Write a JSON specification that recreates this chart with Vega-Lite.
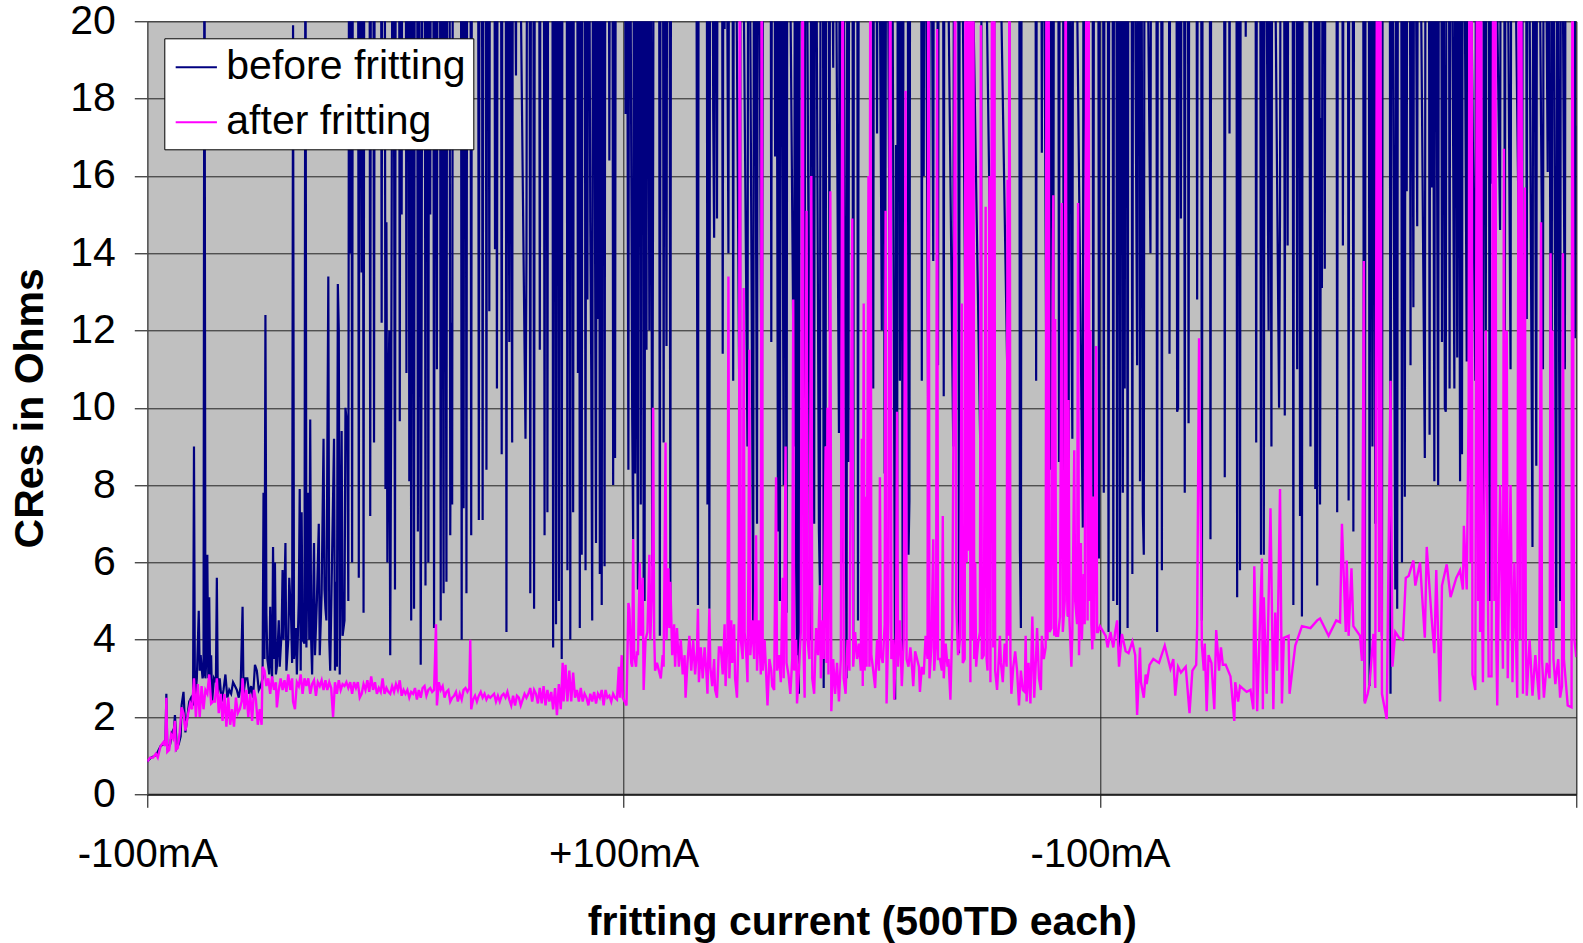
{"$schema":"https://vega.github.io/schema/vega-lite/v6.json","width":1429,"height":773,"autosize":{"type":"none"},"padding":{"left":147.3,"top":21.3,"right":6.7,"bottom":148.7},"background":"white","config":{"font":"Liberation Sans","view":{"fill":"#C0C0C0","stroke":"#808080","strokeWidth":1}},"datasets":{"before":[{"x":0,"y":0.85},{"x":4,"y":0.95},{"x":8,"y":1},{"x":11,"y":1.1},{"x":14,"y":1.25},{"x":17,"y":1.3},{"x":19,"y":1.3},{"x":20,"y":2.6},{"x":21,"y":1.15},{"x":24,"y":1.3},{"x":26,"y":1.6},{"x":28,"y":1.7},{"x":29,"y":2.05},{"x":31,"y":1.2},{"x":33,"y":1.3},{"x":35,"y":1.5},{"x":36,"y":2.3},{"x":38,"y":2.65},{"x":40,"y":1.6},{"x":42,"y":2},{"x":44,"y":2.4},{"x":46,"y":2.5},{"x":48,"y":2.3},{"x":49,"y":9},{"x":50,"y":2.4},{"x":52,"y":3},{"x":54,"y":4.75},{"x":55,"y":3.2},{"x":56,"y":3.6},{"x":58,"y":3},{"x":59,"y":3.1},{"x":60,"y":25},{"x":61,"y":3},{"x":62,"y":3.5},{"x":63,"y":6.2},{"x":64,"y":3},{"x":65,"y":5.1},{"x":66,"y":2.9},{"x":67,"y":3.6},{"x":68,"y":2.4},{"x":70,"y":3},{"x":72,"y":2.9},{"x":73,"y":5.6},{"x":74,"y":2.6},{"x":76,"y":3},{"x":78,"y":2.4},{"x":80,"y":2.7},{"x":82,"y":3.1},{"x":84,"y":2.5},{"x":86,"y":2.7},{"x":88,"y":2.6},{"x":90,"y":2.9},{"x":92,"y":2.8},{"x":94,"y":2.7},{"x":96,"y":2.5},{"x":98,"y":2.8},{"x":100,"y":4.85},{"x":101,"y":2.6},{"x":103,"y":3},{"x":105,"y":3},{"x":107,"y":2.6},{"x":109,"y":2.8},{"x":111,"y":2.5},{"x":113,"y":3.35},{"x":115,"y":3.2},{"x":117,"y":2.7},{"x":119,"y":2.8},{"x":120,"y":2.9},{"x":121,"y":3},{"x":122,"y":7.8},{"x":123,"y":3.5},{"x":124,"y":12.4},{"x":125,"y":4.7},{"x":126,"y":3.5},{"x":128,"y":3.1},{"x":129,"y":4.85},{"x":130,"y":3.5},{"x":131,"y":3},{"x":132,"y":6.4},{"x":133,"y":3.5},{"x":134,"y":6},{"x":135,"y":3.1},{"x":136,"y":3.3},{"x":138,"y":4.5},{"x":139,"y":3.3},{"x":141,"y":4.2},{"x":142,"y":5.8},{"x":143,"y":4},{"x":145,"y":6.5},{"x":146,"y":3.2},{"x":148,"y":4},{"x":149,"y":5.6},{"x":151,"y":4.5},{"x":152,"y":3.4},{"x":153,"y":19.9},{"x":154,"y":3.5},{"x":156,"y":4.3},{"x":157,"y":3.1},{"x":159,"y":5},{"x":160,"y":7.9},{"x":161,"y":3.2},{"x":162,"y":7.3},{"x":163,"y":4},{"x":165,"y":3.9},{"x":166,"y":25},{"x":167,"y":3.8},{"x":169,"y":7.8},{"x":170,"y":4},{"x":171,"y":9.7},{"x":172,"y":4},{"x":173,"y":3.1},{"x":175,"y":6.5},{"x":176,"y":3.6},{"x":178,"y":5},{"x":180,"y":7},{"x":181,"y":3.6},{"x":183,"y":5.2},{"x":185,"y":9.2},{"x":186,"y":5.3},{"x":187,"y":4.8},{"x":188,"y":4.5},{"x":190,"y":13.4},{"x":191,"y":4},{"x":192,"y":3.2},{"x":196,"y":9.2},{"x":197,"y":3.2},{"x":198,"y":5.5},{"x":199,"y":3.3},{"x":200,"y":13.2},{"x":201,"y":12},{"x":202,"y":3.1},{"x":204,"y":9.4},{"x":205,"y":4.1},{"x":207,"y":4.5},{"x":208,"y":10},{"x":210,"y":9.5},{"x":211,"y":5},{"x":212,"y":30},{"x":213,"y":14},{"x":214,"y":30},{"x":215,"y":6},{"x":216,"y":30},{"x":221,"y":30},{"x":222,"y":5.6},{"x":223,"y":30},{"x":225,"y":13.5},{"x":226,"y":30},{"x":227,"y":4.7},{"x":228,"y":30},{"x":233,"y":30},{"x":234,"y":7.2},{"x":235,"y":30},{"x":237,"y":30},{"x":238,"y":9.1},{"x":239,"y":30},{"x":245,"y":30},{"x":246,"y":12.2},{"x":247,"y":30},{"x":249,"y":30},{"x":250,"y":7.9},{"x":251,"y":14.8},{"x":252,"y":6},{"x":253,"y":10},{"x":254,"y":12},{"x":255,"y":3.6},{"x":256,"y":10},{"x":258,"y":30},{"x":260,"y":5.3},{"x":261,"y":30},{"x":264,"y":30},{"x":265,"y":9.65},{"x":266,"y":30},{"x":267,"y":15},{"x":268,"y":30},{"x":271,"y":30},{"x":272,"y":10.9},{"x":273,"y":30},{"x":274,"y":30},{"x":275,"y":8.1},{"x":276,"y":30},{"x":277,"y":4.5},{"x":278,"y":30},{"x":280,"y":4.8},{"x":281,"y":30},{"x":283,"y":30},{"x":284,"y":6.8},{"x":285,"y":30},{"x":287,"y":3.35},{"x":288,"y":12.8},{"x":289,"y":30},{"x":291,"y":30},{"x":292,"y":5.4},{"x":293,"y":30},{"x":294,"y":30},{"x":295,"y":6},{"x":296,"y":30},{"x":297,"y":15},{"x":298,"y":30},{"x":300,"y":30},{"x":301,"y":4.3},{"x":302,"y":30},{"x":304,"y":11},{"x":305,"y":30},{"x":307,"y":30},{"x":308,"y":4.5},{"x":309,"y":30},{"x":311,"y":5.2},{"x":312,"y":30},{"x":314,"y":5.5},{"x":315,"y":30},{"x":317,"y":30},{"x":318,"y":6.7},{"x":319,"y":12.2},{"x":320,"y":7.5},{"x":321,"y":30},{"x":329,"y":30},{"x":330,"y":4},{"x":331,"y":30},{"x":332,"y":7.4},{"x":333,"y":30},{"x":334,"y":30},{"x":335,"y":5.2},{"x":336,"y":30},{"x":339,"y":30},{"x":340,"y":6.7},{"x":341,"y":30},{"x":347,"y":30},{"x":348,"y":7.1},{"x":349,"y":30},{"x":351,"y":30},{"x":352,"y":7.1},{"x":353,"y":30},{"x":355,"y":30},{"x":356,"y":8.4},{"x":357,"y":30},{"x":358,"y":30},{"x":359,"y":12.5},{"x":360,"y":30},{"x":364,"y":30},{"x":365,"y":14.1},{"x":366,"y":30},{"x":367,"y":10.5},{"x":368,"y":30},{"x":371,"y":30},{"x":372,"y":8.8},{"x":373,"y":30},{"x":376,"y":30},{"x":377,"y":4.2},{"x":378,"y":30},{"x":380,"y":11.7},{"x":381,"y":30},{"x":382,"y":18.6},{"x":383,"y":9.1},{"x":384,"y":30},{"x":387,"y":18.6},{"x":388,"y":30},{"x":397,"y":9.2},{"x":398,"y":13.9},{"x":399,"y":30},{"x":401,"y":30},{"x":402,"y":5.2},{"x":403,"y":30},{"x":405,"y":30},{"x":406,"y":4.8},{"x":407,"y":30},{"x":411,"y":30},{"x":412,"y":11.5},{"x":413,"y":30},{"x":416,"y":30},{"x":417,"y":6.7},{"x":418,"y":30},{"x":419,"y":30},{"x":420,"y":7.3},{"x":421,"y":30},{"x":425,"y":30},{"x":426,"y":3.8},{"x":427,"y":30},{"x":428,"y":30},{"x":429,"y":4.4},{"x":430,"y":30},{"x":431,"y":30},{"x":432,"y":5},{"x":433,"y":30},{"x":434,"y":30},{"x":435,"y":3.5},{"x":436,"y":30},{"x":440,"y":30},{"x":441,"y":5.8},{"x":442,"y":30},{"x":443,"y":30},{"x":444,"y":4},{"x":445,"y":30},{"x":446,"y":30},{"x":447,"y":7.3},{"x":448,"y":30},{"x":451,"y":30},{"x":452,"y":10.9},{"x":453,"y":30},{"x":454,"y":4.3},{"x":455,"y":30},{"x":456,"y":6.2},{"x":457,"y":30},{"x":459,"y":30},{"x":460,"y":5.8},{"x":461,"y":30},{"x":462,"y":12.8},{"x":463,"y":30},{"x":465,"y":14.8},{"x":466,"y":11},{"x":467,"y":4.5},{"x":468,"y":30},{"x":471,"y":6.5},{"x":472,"y":30},{"x":473,"y":12.3},{"x":474,"y":30},{"x":475,"y":5.7},{"x":476,"y":30},{"x":477,"y":4.9},{"x":478,"y":30},{"x":479,"y":30},{"x":480,"y":5.9},{"x":481,"y":30},{"x":484,"y":30},{"x":485,"y":16.4},{"x":486,"y":30},{"x":488,"y":30},{"x":489,"y":8},{"x":490,"y":30},{"x":491,"y":8.7},{"x":492,"y":30},{"x":501,"y":30},{"x":502,"y":17.6},{"x":503,"y":30},{"x":505,"y":8.4},{"x":506,"y":30},{"x":509,"y":9.7},{"x":510,"y":6.6},{"x":511,"y":30},{"x":512,"y":8.3},{"x":513,"y":30},{"x":514,"y":11.6},{"x":515,"y":5.3},{"x":516,"y":30},{"x":517,"y":30},{"x":518,"y":7.5},{"x":519,"y":30},{"x":520,"y":30},{"x":521,"y":5.6},{"x":522,"y":5},{"x":523,"y":30},{"x":524,"y":11.5},{"x":525,"y":30},{"x":527,"y":12},{"x":528,"y":30},{"x":530,"y":5.9},{"x":531,"y":16.8},{"x":532,"y":30},{"x":537,"y":30},{"x":538,"y":4.1},{"x":539,"y":30},{"x":541,"y":30},{"x":542,"y":9.1},{"x":543,"y":30},{"x":545,"y":11.6},{"x":546,"y":30},{"x":548,"y":30},{"x":549,"y":4.6},{"x":550,"y":30},{"x":576,"y":30},{"x":577,"y":14},{"x":578,"y":4.9},{"x":579,"y":30},{"x":587,"y":30},{"x":588,"y":7.5},{"x":589,"y":30},{"x":590,"y":4.8},{"x":591,"y":30},{"x":593,"y":30},{"x":594,"y":17.7},{"x":595,"y":14.4},{"x":596,"y":30},{"x":598,"y":14.9},{"x":599,"y":30},{"x":603,"y":30},{"x":604,"y":11.4},{"x":605,"y":30},{"x":606,"y":19.8},{"x":607,"y":30},{"x":610,"y":14},{"x":611,"y":30},{"x":614,"y":30},{"x":615,"y":10.7},{"x":616,"y":30},{"x":622,"y":8},{"x":623,"y":30},{"x":630,"y":9},{"x":631,"y":30},{"x":636,"y":4.4},{"x":637,"y":30},{"x":640,"y":7},{"x":641,"y":30},{"x":645,"y":8},{"x":647,"y":30},{"x":654,"y":30},{"x":655,"y":11.7},{"x":656,"y":30},{"x":658,"y":30},{"x":659,"y":16.5},{"x":660,"y":30},{"x":662,"y":6.8},{"x":663,"y":30},{"x":664,"y":5},{"x":665,"y":30},{"x":668,"y":8},{"x":669,"y":30},{"x":671,"y":4.7},{"x":672,"y":30},{"x":679,"y":9},{"x":680,"y":30},{"x":681,"y":6},{"x":682,"y":3.6},{"x":683,"y":30},{"x":684,"y":2.6},{"x":685,"y":30},{"x":690,"y":8},{"x":691,"y":30},{"x":696,"y":4},{"x":697,"y":30},{"x":700,"y":7},{"x":701,"y":30},{"x":705,"y":6.8},{"x":706,"y":5.4},{"x":707,"y":30},{"x":709,"y":30},{"x":710,"y":2.75},{"x":711,"y":30},{"x":712,"y":9},{"x":713,"y":30},{"x":715,"y":30},{"x":716,"y":12},{"x":717,"y":30},{"x":720,"y":18.8},{"x":721,"y":30},{"x":726,"y":9.35},{"x":727,"y":30},{"x":729,"y":6},{"x":730,"y":30},{"x":733,"y":8.6},{"x":734,"y":3},{"x":735,"y":30},{"x":736,"y":8.6},{"x":737,"y":30},{"x":740,"y":30},{"x":741,"y":3.5},{"x":742,"y":30},{"x":745,"y":30},{"x":746,"y":4.5},{"x":747,"y":30},{"x":761,"y":30},{"x":762,"y":10.5},{"x":763,"y":30},{"x":765,"y":30},{"x":766,"y":17.1},{"x":767,"y":30},{"x":771,"y":12},{"x":772,"y":30},{"x":774,"y":8.3},{"x":775,"y":17.2},{"x":776,"y":30},{"x":780,"y":9},{"x":781,"y":30},{"x":785,"y":2.45},{"x":786,"y":16.8},{"x":787,"y":4.3},{"x":788,"y":30},{"x":789,"y":30},{"x":790,"y":10.7},{"x":791,"y":30},{"x":793,"y":3.5},{"x":794,"y":30},{"x":798,"y":30},{"x":799,"y":6.2},{"x":800,"y":7.6},{"x":801,"y":30},{"x":812,"y":30},{"x":813,"y":10.7},{"x":814,"y":30},{"x":815,"y":16},{"x":816,"y":30},{"x":820,"y":8},{"x":822,"y":30},{"x":825,"y":13.8},{"x":826,"y":30},{"x":829,"y":30},{"x":830,"y":11.1},{"x":831,"y":30},{"x":835,"y":30},{"x":836,"y":10.3},{"x":837,"y":30},{"x":846,"y":9},{"x":847,"y":30},{"x":851,"y":30},{"x":852,"y":3.65},{"x":853,"y":30},{"x":860,"y":8},{"x":861,"y":30},{"x":875,"y":8},{"x":876,"y":30},{"x":888,"y":8},{"x":890,"y":30},{"x":904,"y":9},{"x":906,"y":30},{"x":915,"y":30},{"x":916,"y":6.3},{"x":917,"y":4.3},{"x":918,"y":30},{"x":932,"y":30},{"x":933,"y":10.7},{"x":934,"y":30},{"x":938,"y":30},{"x":939,"y":16.6},{"x":940,"y":30},{"x":944,"y":9},{"x":946,"y":30},{"x":947,"y":30},{"x":948,"y":8.4},{"x":949,"y":30},{"x":951,"y":11},{"x":952,"y":30},{"x":956,"y":30},{"x":957,"y":8.6},{"x":958,"y":30},{"x":961,"y":30},{"x":962,"y":6.8},{"x":963,"y":30},{"x":966,"y":30},{"x":967,"y":4.6},{"x":968,"y":30},{"x":970,"y":12.8},{"x":971,"y":9.2},{"x":972,"y":30},{"x":981,"y":9},{"x":982,"y":6.9},{"x":983,"y":30},{"x":986,"y":9},{"x":987,"y":30},{"x":992,"y":30},{"x":993,"y":7.7},{"x":994,"y":30},{"x":998,"y":30},{"x":999,"y":6.1},{"x":1000,"y":30},{"x":1003,"y":30},{"x":1004,"y":7.8},{"x":1005,"y":30},{"x":1008,"y":30},{"x":1009,"y":4.2},{"x":1010,"y":30},{"x":1013,"y":30},{"x":1014,"y":5},{"x":1015,"y":30},{"x":1017,"y":30},{"x":1018,"y":4.9},{"x":1019,"y":30},{"x":1020,"y":30},{"x":1021,"y":3.8},{"x":1022,"y":30},{"x":1023,"y":30},{"x":1024,"y":7.8},{"x":1025,"y":30},{"x":1026,"y":10.5},{"x":1027,"y":30},{"x":1028,"y":30},{"x":1029,"y":4.3},{"x":1030,"y":30},{"x":1033,"y":30},{"x":1034,"y":5.7},{"x":1035,"y":30},{"x":1039,"y":11.1},{"x":1040,"y":30},{"x":1041,"y":30},{"x":1042,"y":8.1},{"x":1043,"y":30},{"x":1045,"y":7.3},{"x":1046,"y":6.2},{"x":1047,"y":30},{"x":1053,"y":14},{"x":1054,"y":30},{"x":1059,"y":30},{"x":1060,"y":4.2},{"x":1061,"y":30},{"x":1064,"y":30},{"x":1065,"y":5.8},{"x":1066,"y":30},{"x":1072,"y":30},{"x":1073,"y":11.4},{"x":1074,"y":30},{"x":1080,"y":30},{"x":1081,"y":9.9},{"x":1082,"y":10},{"x":1083,"y":30},{"x":1084,"y":30},{"x":1085,"y":14.9},{"x":1086,"y":30},{"x":1088,"y":30},{"x":1089,"y":7.8},{"x":1090,"y":30},{"x":1092,"y":30},{"x":1093,"y":9.6},{"x":1094,"y":30},{"x":1101,"y":30},{"x":1102,"y":12.8},{"x":1103,"y":30},{"x":1106,"y":30},{"x":1107,"y":4.5},{"x":1108,"y":30},{"x":1115,"y":30},{"x":1116,"y":6.6},{"x":1117,"y":30},{"x":1130,"y":30},{"x":1131,"y":8.2},{"x":1132,"y":30},{"x":1135,"y":30},{"x":1136,"y":17.1},{"x":1137,"y":30},{"x":1143,"y":30},{"x":1144,"y":5.1},{"x":1145,"y":30},{"x":1146,"y":30},{"x":1147,"y":5.8},{"x":1148,"y":30},{"x":1152,"y":30},{"x":1153,"y":19.6},{"x":1154,"y":30},{"x":1163,"y":30},{"x":1164,"y":9.1},{"x":1165,"y":30},{"x":1168,"y":30},{"x":1169,"y":6.2},{"x":1170,"y":30},{"x":1171,"y":30},{"x":1172,"y":6.2},{"x":1173,"y":30},{"x":1177,"y":12},{"x":1178,"y":30},{"x":1180,"y":9},{"x":1181,"y":30},{"x":1188,"y":10},{"x":1189,"y":15.1},{"x":1190,"y":30},{"x":1193,"y":30},{"x":1194,"y":9.8},{"x":1195,"y":30},{"x":1196,"y":30},{"x":1197,"y":14.2},{"x":1198,"y":30},{"x":1202,"y":30},{"x":1203,"y":4.9},{"x":1204,"y":30},{"x":1206,"y":30},{"x":1207,"y":11},{"x":1208,"y":30},{"x":1209,"y":30},{"x":1210,"y":7.2},{"x":1211,"y":30},{"x":1212,"y":4.6},{"x":1213,"y":30},{"x":1219,"y":30},{"x":1220,"y":18.4},{"x":1221,"y":9},{"x":1222,"y":30},{"x":1225,"y":30},{"x":1226,"y":7.9},{"x":1227,"y":30},{"x":1228,"y":5.4},{"x":1229,"y":30},{"x":1230,"y":30},{"x":1231,"y":7.5},{"x":1232,"y":17.5},{"x":1233,"y":13.1},{"x":1234,"y":30},{"x":1235,"y":30},{"x":1236,"y":13.6},{"x":1237,"y":30},{"x":1248,"y":30},{"x":1249,"y":7.3},{"x":1250,"y":30},{"x":1254,"y":30},{"x":1255,"y":14.2},{"x":1256,"y":30},{"x":1260,"y":30},{"x":1261,"y":7.6},{"x":1262,"y":30},{"x":1265,"y":30},{"x":1266,"y":6.8},{"x":1267,"y":30},{"x":1276,"y":30},{"x":1277,"y":8},{"x":1278,"y":2.4},{"x":1279,"y":30},{"x":1282,"y":30},{"x":1283,"y":2.8},{"x":1284,"y":30},{"x":1286,"y":9},{"x":1287,"y":30},{"x":1289,"y":7},{"x":1290,"y":30},{"x":1295,"y":9},{"x":1296,"y":4.1},{"x":1297,"y":30},{"x":1304,"y":30},{"x":1305,"y":2.6},{"x":1306,"y":30},{"x":1310,"y":5.3},{"x":1311,"y":30},{"x":1312,"y":4.8},{"x":1313,"y":30},{"x":1316,"y":30},{"x":1317,"y":6},{"x":1318,"y":30},{"x":1320,"y":7.7},{"x":1321,"y":30},{"x":1322,"y":15.6},{"x":1323,"y":30},{"x":1325,"y":30},{"x":1326,"y":11.1},{"x":1327,"y":30},{"x":1329,"y":12.6},{"x":1330,"y":30},{"x":1333,"y":14.7},{"x":1334,"y":30},{"x":1341,"y":8.7},{"x":1342,"y":30},{"x":1345,"y":30},{"x":1346,"y":9.3},{"x":1347,"y":30},{"x":1348,"y":15.7},{"x":1349,"y":30},{"x":1351,"y":8.1},{"x":1352,"y":30},{"x":1355,"y":8},{"x":1356,"y":30},{"x":1358,"y":30},{"x":1359,"y":11.7},{"x":1360,"y":30},{"x":1362,"y":10},{"x":1363,"y":9.9},{"x":1364,"y":30},{"x":1366,"y":30},{"x":1367,"y":10.5},{"x":1368,"y":30},{"x":1372,"y":10.5},{"x":1373,"y":30},{"x":1375,"y":11.3},{"x":1376,"y":30},{"x":1378,"y":8.1},{"x":1379,"y":30},{"x":1380,"y":8.8},{"x":1381,"y":30},{"x":1385,"y":11.2},{"x":1386,"y":30},{"x":1394,"y":10.7},{"x":1395,"y":30},{"x":1402,"y":5.8},{"x":1403,"y":30},{"x":1405,"y":12},{"x":1406,"y":30},{"x":1408,"y":30},{"x":1409,"y":5},{"x":1410,"y":30},{"x":1411,"y":15.8},{"x":1412,"y":30},{"x":1420,"y":14.6},{"x":1421,"y":30},{"x":1424,"y":30},{"x":1425,"y":12},{"x":1426,"y":30},{"x":1431,"y":11},{"x":1432,"y":30},{"x":1443,"y":7.4},{"x":1444,"y":30},{"x":1447,"y":30},{"x":1448,"y":12.3},{"x":1449,"y":30},{"x":1454,"y":6.4},{"x":1455,"y":30},{"x":1458,"y":8.5},{"x":1459,"y":30},{"x":1465,"y":11},{"x":1466,"y":30},{"x":1470,"y":16.1},{"x":1471,"y":30},{"x":1473,"y":11},{"x":1474,"y":6.1},{"x":1475,"y":30},{"x":1479,"y":4.3},{"x":1480,"y":30},{"x":1482,"y":11},{"x":1483,"y":5},{"x":1484,"y":30},{"x":1488,"y":11},{"x":1489,"y":30},{"x":1498,"y":30},{"x":1499,"y":11.8},{"x":1500,"y":17.3}],"after":[{"x":0,"y":0.85},{"x":3,"y":0.95},{"x":6,"y":0.95},{"x":9,"y":1.05},{"x":11,"y":0.95},{"x":14,"y":1.25},{"x":17,"y":1.35},{"x":19,"y":1.25},{"x":20,"y":2.5},{"x":21,"y":1.1},{"x":23,"y":1.15},{"x":25,"y":1.55},{"x":27,"y":1.45},{"x":29,"y":1.9},{"x":30,"y":1.15},{"x":32,"y":1.2},{"x":34,"y":1.6},{"x":36,"y":2.25},{"x":38,"y":2.1},{"x":40,"y":1.65},{"x":41,"y":1.8},{"x":43,"y":2.1},{"x":45,"y":2.35},{"x":47,"y":2.2},{"x":49,"y":3},{"x":51,"y":2},{"x":53,"y":2.85},{"x":55,"y":2},{"x":57,"y":2.8},{"x":59,"y":2.2},{"x":61,"y":2.7},{"x":63,"y":2.6},{"x":65,"y":3.1},{"x":67,"y":2.35},{"x":69,"y":2.4},{"x":71,"y":2.4},{"x":73,"y":3},{"x":75,"y":2.1},{"x":77,"y":2.6},{"x":79,"y":1.9},{"x":81,"y":2.6},{"x":83,"y":1.75},{"x":85,"y":2.5},{"x":87,"y":1.8},{"x":89,"y":2.2},{"x":91,"y":1.75},{"x":93,"y":2.5},{"x":95,"y":2.1},{"x":97,"y":2.2},{"x":99,"y":2.4},{"x":100,"y":3},{"x":102,"y":2.2},{"x":104,"y":2.7},{"x":106,"y":2},{"x":108,"y":2.6},{"x":110,"y":1.9},{"x":112,"y":2.7},{"x":114,"y":2.45},{"x":116,"y":1.8},{"x":118,"y":2.2},{"x":120,"y":1.8},{"x":121,"y":3.3},{"x":123,"y":3.2},{"x":125,"y":2.8},{"x":127,"y":3},{"x":129,"y":2.6},{"x":131,"y":3.05},{"x":133,"y":2.7},{"x":135,"y":2.9},{"x":136,"y":2.25},{"x":138,"y":2.7},{"x":140,"y":3},{"x":142,"y":2.7},{"x":144,"y":2.95},{"x":146,"y":2.65},{"x":148,"y":3.1},{"x":150,"y":2.7},{"x":152,"y":3},{"x":153,"y":2.4},{"x":155,"y":2.2},{"x":157,"y":2.9},{"x":159,"y":2.8},{"x":161,"y":3.1},{"x":163,"y":2.6},{"x":165,"y":3},{"x":167,"y":2.8},{"x":169,"y":3},{"x":171,"y":2.6},{"x":173,"y":2.85},{"x":175,"y":2.95},{"x":177,"y":2.55},{"x":179,"y":2.9},{"x":181,"y":2.8},{"x":183,"y":2.95},{"x":185,"y":2.7},{"x":187,"y":2.95},{"x":189,"y":2.7},{"x":191,"y":2.9},{"x":193,"y":2.75},{"x":195,"y":2},{"x":197,"y":2.9},{"x":199,"y":2.6},{"x":201,"y":2.95},{"x":203,"y":2.7},{"x":205,"y":2.85},{"x":207,"y":2.8},{"x":209,"y":2.9},{"x":211,"y":2.75},{"x":213,"y":2.9},{"x":215,"y":2.6},{"x":217,"y":2.9},{"x":219,"y":2.75},{"x":221,"y":2.9},{"x":223,"y":2.5},{"x":225,"y":2.6},{"x":227,"y":2.85},{"x":229,"y":2.7},{"x":231,"y":2.95},{"x":233,"y":2.65},{"x":235,"y":3.05},{"x":237,"y":2.7},{"x":239,"y":2.9},{"x":241,"y":2.6},{"x":243,"y":2.75},{"x":245,"y":2.65},{"x":247,"y":3},{"x":249,"y":2.6},{"x":251,"y":2.75},{"x":253,"y":2.65},{"x":255,"y":2.6},{"x":257,"y":2.8},{"x":259,"y":2.65},{"x":261,"y":2.85},{"x":263,"y":2.7},{"x":265,"y":2.95},{"x":267,"y":2.55},{"x":269,"y":2.7},{"x":271,"y":2.6},{"x":273,"y":2.7},{"x":275,"y":2.5},{"x":277,"y":2.65},{"x":279,"y":2.6},{"x":281,"y":2.75},{"x":283,"y":2.45},{"x":285,"y":2.7},{"x":287,"y":2.5},{"x":289,"y":2.75},{"x":291,"y":2.8},{"x":293,"y":2.55},{"x":295,"y":2.7},{"x":297,"y":2.75},{"x":299,"y":2.65},{"x":301,"y":2.7},{"x":302,"y":3.5},{"x":303,"y":4.4},{"x":304,"y":2.3},{"x":306,"y":2.9},{"x":308,"y":2.7},{"x":310,"y":2.8},{"x":312,"y":2.5},{"x":314,"y":2.65},{"x":316,"y":2.7},{"x":318,"y":2.4},{"x":320,"y":2.5},{"x":322,"y":2.55},{"x":324,"y":2.65},{"x":326,"y":2.4},{"x":328,"y":2.6},{"x":330,"y":2.45},{"x":332,"y":2.7},{"x":334,"y":2.75},{"x":336,"y":2.65},{"x":338,"y":2.75},{"x":339,"y":4},{"x":340,"y":2.2},{"x":342,"y":2.45},{"x":344,"y":2.55},{"x":346,"y":2.4},{"x":348,"y":2.55},{"x":350,"y":2.65},{"x":352,"y":2.5},{"x":354,"y":2.6},{"x":356,"y":2.45},{"x":358,"y":2.55},{"x":360,"y":2.5},{"x":362,"y":2.55},{"x":364,"y":2.6},{"x":366,"y":2.4},{"x":368,"y":2.55},{"x":370,"y":2.4},{"x":372,"y":2.55},{"x":374,"y":2.6},{"x":376,"y":2.5},{"x":378,"y":2.65},{"x":380,"y":2.45},{"x":382,"y":2.3},{"x":384,"y":2.55},{"x":386,"y":2.3},{"x":388,"y":2.55},{"x":390,"y":2.5},{"x":392,"y":2.3},{"x":394,"y":2.45},{"x":396,"y":2.6},{"x":398,"y":2.5},{"x":400,"y":2.6},{"x":402,"y":2.75},{"x":404,"y":2.4},{"x":406,"y":2.7},{"x":408,"y":2.6},{"x":410,"y":2.35},{"x":412,"y":2.75},{"x":414,"y":2.35},{"x":416,"y":2.8},{"x":418,"y":2.3},{"x":420,"y":2.7},{"x":422,"y":2.4},{"x":424,"y":2.65},{"x":426,"y":2.2},{"x":428,"y":2.75},{"x":430,"y":2.05},{"x":432,"y":2.85},{"x":434,"y":2.2},{"x":436,"y":3.4},{"x":437,"y":2.4},{"x":439,"y":3.35},{"x":441,"y":2.4},{"x":443,"y":3.2},{"x":445,"y":2.4},{"x":447,"y":3.15},{"x":449,"y":2.5},{"x":451,"y":2.7},{"x":453,"y":2.4},{"x":455,"y":2.75},{"x":457,"y":2.4},{"x":459,"y":2.6},{"x":461,"y":2.5},{"x":463,"y":2.3},{"x":465,"y":2.6},{"x":467,"y":2.4},{"x":469,"y":2.65},{"x":471,"y":2.35},{"x":473,"y":2.6},{"x":475,"y":2.5},{"x":477,"y":2.7},{"x":479,"y":2.3},{"x":481,"y":2.7},{"x":483,"y":2.5},{"x":485,"y":2.55},{"x":487,"y":2.4},{"x":489,"y":2.6},{"x":491,"y":2.5},{"x":493,"y":2.45},{"x":495,"y":3.3},{"x":496,"y":2.5},{"x":498,"y":3.6},{"x":499,"y":2.5},{"x":501,"y":2.4},{"x":503,"y":2.3},{"x":505,"y":4.95},{"x":506,"y":4.8},{"x":508,"y":3.4},{"x":509,"y":3.3},{"x":510,"y":6.6},{"x":511,"y":3.6},{"x":513,"y":3.3},{"x":514,"y":3.7},{"x":515,"y":3.6},{"x":517,"y":6},{"x":518,"y":4.1},{"x":519,"y":4.4},{"x":520,"y":5.6},{"x":521,"y":2.7},{"x":523,"y":4},{"x":525,"y":4.2},{"x":527,"y":6.2},{"x":528,"y":4},{"x":530,"y":5.5},{"x":531,"y":10},{"x":532,"y":4.2},{"x":533,"y":3.2},{"x":535,"y":3.4},{"x":537,"y":3.2},{"x":539,"y":3},{"x":541,"y":3.6},{"x":542,"y":3.3},{"x":544,"y":9.1},{"x":545,"y":4},{"x":547,"y":5.85},{"x":548,"y":4.3},{"x":549,"y":5.5},{"x":551,"y":3.6},{"x":553,"y":4.4},{"x":554,"y":3.3},{"x":556,"y":4.3},{"x":558,"y":3.3},{"x":560,"y":4},{"x":562,"y":3.1},{"x":564,"y":3.6},{"x":565,"y":2.5},{"x":567,"y":3.4},{"x":569,"y":4.1},{"x":571,"y":3.2},{"x":573,"y":4},{"x":575,"y":3.1},{"x":577,"y":3.7},{"x":578,"y":4.8},{"x":579,"y":2.9},{"x":581,"y":3.8},{"x":583,"y":3},{"x":585,"y":3.8},{"x":587,"y":3.1},{"x":588,"y":2.6},{"x":590,"y":4.8},{"x":591,"y":3.3},{"x":593,"y":2.8},{"x":595,"y":3.5},{"x":596,"y":2.7},{"x":598,"y":2.5},{"x":600,"y":3.8},{"x":602,"y":3.8},{"x":604,"y":3.1},{"x":606,"y":4.4},{"x":607,"y":2.8},{"x":609,"y":4},{"x":610,"y":13.4},{"x":611,"y":3},{"x":613,"y":4.5},{"x":614,"y":3.4},{"x":616,"y":4.4},{"x":617,"y":3},{"x":619,"y":2.5},{"x":621,"y":4.6},{"x":622,"y":25},{"x":623,"y":4},{"x":625,"y":3.5},{"x":626,"y":13.1},{"x":627,"y":4.2},{"x":629,"y":3.5},{"x":630,"y":2.9},{"x":631,"y":6},{"x":632,"y":11.5},{"x":633,"y":3.6},{"x":635,"y":4.5},{"x":637,"y":3.5},{"x":639,"y":6.7},{"x":640,"y":3.2},{"x":642,"y":4.5},{"x":644,"y":3.1},{"x":645,"y":25},{"x":646,"y":3.2},{"x":648,"y":4},{"x":650,"y":2.9},{"x":651,"y":2.3},{"x":653,"y":3.5},{"x":655,"y":3.2},{"x":656,"y":2.8},{"x":658,"y":2.7},{"x":660,"y":8.2},{"x":661,"y":3.2},{"x":663,"y":3.6},{"x":665,"y":2.9},{"x":667,"y":5.6},{"x":668,"y":3},{"x":670,"y":9},{"x":671,"y":3.4},{"x":673,"y":3.1},{"x":675,"y":2.6},{"x":677,"y":3.5},{"x":678,"y":12.8},{"x":679,"y":3.2},{"x":681,"y":4},{"x":682,"y":2.35},{"x":684,"y":3.2},{"x":686,"y":4.2},{"x":688,"y":25},{"x":689,"y":3.6},{"x":690,"y":2.5},{"x":692,"y":15.1},{"x":693,"y":4},{"x":695,"y":3.5},{"x":697,"y":16},{"x":698,"y":3},{"x":700,"y":2.6},{"x":702,"y":4.3},{"x":704,"y":3.6},{"x":706,"y":5.4},{"x":707,"y":3},{"x":709,"y":4.5},{"x":710,"y":3.5},{"x":712,"y":9},{"x":713,"y":3.4},{"x":714,"y":10},{"x":715,"y":3.1},{"x":717,"y":15.6},{"x":718,"y":2.15},{"x":720,"y":3.5},{"x":722,"y":2.6},{"x":724,"y":3.4},{"x":726,"y":2.4},{"x":728,"y":3.5},{"x":730,"y":25},{"x":731,"y":3},{"x":733,"y":2.6},{"x":735,"y":4},{"x":737,"y":3.2},{"x":740,"y":14.9},{"x":741,"y":3.3},{"x":743,"y":4.2},{"x":745,"y":3.5},{"x":747,"y":3.9},{"x":749,"y":3.2},{"x":750,"y":9.2},{"x":751,"y":2.8},{"x":752,"y":12.7},{"x":753,"y":3.2},{"x":754,"y":7.7},{"x":755,"y":3.3},{"x":757,"y":16},{"x":758,"y":3.3},{"x":759,"y":25},{"x":760,"y":3.6},{"x":762,"y":3.2},{"x":764,"y":2.75},{"x":766,"y":4},{"x":768,"y":3.2},{"x":769,"y":8.2},{"x":770,"y":3.6},{"x":772,"y":3.4},{"x":774,"y":4.4},{"x":775,"y":15.1},{"x":776,"y":2.35},{"x":778,"y":4.5},{"x":780,"y":25},{"x":781,"y":3.5},{"x":783,"y":4},{"x":784,"y":2.45},{"x":786,"y":4.2},{"x":787,"y":9.9},{"x":788,"y":3.3},{"x":790,"y":4.5},{"x":792,"y":2.8},{"x":794,"y":4},{"x":796,"y":18.2},{"x":797,"y":3.5},{"x":799,"y":3.3},{"x":801,"y":3.8},{"x":803,"y":3.2},{"x":804,"y":2.8},{"x":806,"y":3.7},{"x":808,"y":3.5},{"x":810,"y":3.3},{"x":811,"y":2.65},{"x":813,"y":3.3},{"x":815,"y":3.1},{"x":817,"y":4.1},{"x":819,"y":3.5},{"x":820,"y":25},{"x":821,"y":3},{"x":823,"y":3.8},{"x":825,"y":6.6},{"x":826,"y":3.2},{"x":828,"y":4},{"x":829,"y":19.8},{"x":830,"y":3.5},{"x":832,"y":3.5},{"x":834,"y":3.2},{"x":835,"y":7.2},{"x":836,"y":3},{"x":838,"y":3.9},{"x":840,"y":3.3},{"x":841,"y":3.5},{"x":843,"y":2.45},{"x":845,"y":4.4},{"x":847,"y":13},{"x":848,"y":25},{"x":849,"y":5},{"x":851,"y":3.6},{"x":853,"y":4},{"x":855,"y":12.7},{"x":856,"y":3.4},{"x":858,"y":3.5},{"x":859,"y":25},{"x":860,"y":6},{"x":861,"y":25},{"x":862,"y":6.3},{"x":863,"y":25},{"x":864,"y":2.9},{"x":865,"y":25},{"x":866,"y":4},{"x":867,"y":25},{"x":868,"y":3.5},{"x":869,"y":6},{"x":870,"y":3.3},{"x":872,"y":3.9},{"x":874,"y":4.2},{"x":875,"y":19.9},{"x":876,"y":3.5},{"x":878,"y":3.6},{"x":880,"y":15.2},{"x":881,"y":3.5},{"x":882,"y":3.2},{"x":884,"y":16},{"x":885,"y":2.9},{"x":887,"y":25},{"x":888,"y":3.8},{"x":889,"y":25},{"x":890,"y":3.2},{"x":892,"y":2.7},{"x":894,"y":3.6},{"x":895,"y":4.1},{"x":896,"y":3.4},{"x":898,"y":2.9},{"x":900,"y":3.9},{"x":902,"y":3.3},{"x":903,"y":15.9},{"x":904,"y":4.1},{"x":905,"y":25},{"x":906,"y":3.6},{"x":907,"y":2.6},{"x":909,"y":3.3},{"x":911,"y":3.7},{"x":913,"y":3.2},{"x":915,"y":2.3},{"x":917,"y":3.2},{"x":919,"y":2.7},{"x":921,"y":2.65},{"x":922,"y":4.1},{"x":923,"y":2.4},{"x":925,"y":3.4},{"x":927,"y":2.35},{"x":929,"y":4.6},{"x":931,"y":2.5},{"x":933,"y":3.6},{"x":934,"y":4.3},{"x":936,"y":3},{"x":938,"y":2.7},{"x":939,"y":4.1},{"x":941,"y":3.5},{"x":943,"y":3.8},{"x":944,"y":25},{"x":945,"y":4},{"x":946,"y":25},{"x":947,"y":4.2},{"x":949,"y":4.3},{"x":951,"y":15.5},{"x":952,"y":4.1},{"x":953,"y":12.3},{"x":954,"y":4.1},{"x":956,"y":4.1},{"x":958,"y":4.6},{"x":960,"y":15.3},{"x":961,"y":4.2},{"x":963,"y":5},{"x":964,"y":25},{"x":965,"y":5.8},{"x":966,"y":4.6},{"x":967,"y":10.2},{"x":968,"y":4.5},{"x":970,"y":3.3},{"x":971,"y":4.2},{"x":973,"y":8.9},{"x":974,"y":5},{"x":976,"y":4.4},{"x":977,"y":15.3},{"x":978,"y":3.6},{"x":980,"y":6.5},{"x":981,"y":4},{"x":983,"y":5.7},{"x":984,"y":4.4},{"x":986,"y":25},{"x":987,"y":4.5},{"x":988,"y":25},{"x":989,"y":5},{"x":990,"y":12},{"x":991,"y":4.4},{"x":992,"y":3.75},{"x":993,"y":7.7},{"x":994,"y":4},{"x":996,"y":11.6},{"x":997,"y":4.2},{"x":998,"y":4.2},{"x":1000,"y":4.35},{"x":1006,"y":4.1},{"x":1008,"y":3.8},{"x":1011,"y":4.2},{"x":1014,"y":3.8},{"x":1016,"y":4.2},{"x":1018,"y":4.5},{"x":1020,"y":3.3},{"x":1023,"y":4.15},{"x":1027,"y":3.7},{"x":1030,"y":3.65},{"x":1034,"y":3.95},{"x":1037,"y":3.6},{"x":1039,"y":2.05},{"x":1042,"y":3.8},{"x":1043,"y":2.9},{"x":1046,"y":2.5},{"x":1048,"y":3.1},{"x":1049,"y":2.85},{"x":1052,"y":3.35},{"x":1056,"y":3.5},{"x":1062,"y":3.4},{"x":1068,"y":3.85},{"x":1074,"y":3.25},{"x":1077,"y":3.5},{"x":1079,"y":2.55},{"x":1082,"y":3.3},{"x":1085,"y":3.15},{"x":1090,"y":3.3},{"x":1094,"y":2.1},{"x":1097,"y":3.2},{"x":1101,"y":3.35},{"x":1102,"y":4.35},{"x":1104,"y":11.8},{"x":1107,"y":3.85},{"x":1109,"y":3.2},{"x":1110,"y":3.9},{"x":1112,"y":2.15},{"x":1114,"y":3.6},{"x":1117,"y":3.4},{"x":1118,"y":3},{"x":1120,"y":2.2},{"x":1122,"y":4.25},{"x":1125,"y":3.2},{"x":1127,"y":3.8},{"x":1129,"y":3.35},{"x":1132,"y":3.35},{"x":1137,"y":3.05},{"x":1141,"y":1.9},{"x":1142,"y":2.9},{"x":1145,"y":2.4},{"x":1147,"y":2.8},{"x":1154,"y":2.65},{"x":1158,"y":2.7},{"x":1161,"y":2.2},{"x":1162,"y":5.9},{"x":1165,"y":2.15},{"x":1170,"y":6.1},{"x":1171,"y":2.2},{"x":1172,"y":5.1},{"x":1175,"y":2.6},{"x":1179,"y":7.4},{"x":1182,"y":2.2},{"x":1184,"y":4.7},{"x":1186,"y":3.2},{"x":1189,"y":7.9},{"x":1191,"y":2.35},{"x":1193,"y":4.05},{"x":1198,"y":4.1},{"x":1199,"y":2.6},{"x":1205,"y":3.85},{"x":1212,"y":4.35},{"x":1221,"y":4.3},{"x":1228,"y":4.5},{"x":1231,"y":4.55},{"x":1240,"y":4.1},{"x":1248,"y":4.5},{"x":1252,"y":4.45},{"x":1254,"y":7},{"x":1258,"y":4.2},{"x":1259,"y":6.05},{"x":1261,"y":4.1},{"x":1264,"y":5.85},{"x":1266,"y":4.35},{"x":1273,"y":4.1},{"x":1275,"y":3.45},{"x":1277,"y":13.8},{"x":1278,"y":2.35},{"x":1281,"y":2.6},{"x":1283,"y":2.85},{"x":1287,"y":4.15},{"x":1289,"y":2.75},{"x":1291,"y":25},{"x":1293,"y":4.2},{"x":1294,"y":25},{"x":1296,"y":2.6},{"x":1301,"y":1.95},{"x":1305,"y":10.7},{"x":1307,"y":3.3},{"x":1310,"y":4.2},{"x":1314,"y":4.05},{"x":1318,"y":4},{"x":1321,"y":5.6},{"x":1324,"y":5.65},{"x":1329,"y":6.05},{"x":1331,"y":5.4},{"x":1336,"y":6},{"x":1339,"y":4.8},{"x":1341,"y":4.05},{"x":1343,"y":6.4},{"x":1348,"y":4.6},{"x":1351,"y":3.65},{"x":1353,"y":5.8},{"x":1357,"y":2.4},{"x":1359,"y":5.4},{"x":1364,"y":5.95},{"x":1368,"y":5.1},{"x":1374,"y":5.6},{"x":1378,"y":5.8},{"x":1381,"y":5.3},{"x":1382,"y":6.95},{"x":1385,"y":5.3},{"x":1387,"y":10.1},{"x":1388,"y":25},{"x":1389,"y":6},{"x":1390,"y":25},{"x":1391,"y":3.1},{"x":1394,"y":2.7},{"x":1396,"y":25},{"x":1397,"y":5},{"x":1398,"y":25},{"x":1399,"y":4.2},{"x":1400,"y":25},{"x":1401,"y":5},{"x":1402,"y":2.9},{"x":1405,"y":12},{"x":1408,"y":3.05},{"x":1411,"y":3.05},{"x":1413,"y":25},{"x":1414,"y":5},{"x":1415,"y":25},{"x":1416,"y":4},{"x":1417,"y":2.3},{"x":1420,"y":8},{"x":1423,"y":3.25},{"x":1424,"y":16.7},{"x":1425,"y":4},{"x":1427,"y":12},{"x":1428,"y":3},{"x":1431,"y":8},{"x":1433,"y":2.9},{"x":1435,"y":6},{"x":1438,"y":2.5},{"x":1440,"y":25},{"x":1441,"y":4},{"x":1442,"y":25},{"x":1444,"y":2.6},{"x":1446,"y":15.7},{"x":1447,"y":4},{"x":1448,"y":2.55},{"x":1451,"y":4},{"x":1454,"y":2.55},{"x":1457,"y":3.6},{"x":1461,"y":2.45},{"x":1463,"y":14.8},{"x":1464,"y":3.5},{"x":1466,"y":2.5},{"x":1469,"y":3.4},{"x":1472,"y":3},{"x":1473,"y":14},{"x":1474,"y":4},{"x":1475,"y":12},{"x":1476,"y":3.5},{"x":1478,"y":2.85},{"x":1481,"y":3.5},{"x":1483,"y":2.5},{"x":1485,"y":2.8},{"x":1486,"y":14},{"x":1487,"y":3.5},{"x":1491,"y":2.3},{"x":1495,"y":2.25},{"x":1496,"y":25},{"x":1497,"y":8},{"x":1498,"y":4},{"x":1500,"y":3.55}]},"encoding":{"x":{"field":"x","type":"quantitative","scale":{"domain":[0,1500],"nice":false,"zero":false},"axis":{"values":[0,500,1000,1500],"labelExpr":"datum.value==0||datum.value==1000?'-100mA':datum.value==500?'+100mA':''","title":"fritting current (500TD each)","titleFontSize":41,"titleFontWeight":"bold","titleColor":"black","titleBaseline":"middle","titleX":714.5,"titleY":128,"labelFontSize":40,"labelColor":"black","labelPadding":27,"labelFlush":false,"labelOverlap":false,"labelBound":false,"tickSize":13,"tickColor":"black","domainColor":"#222","domainWidth":2,"gridColor":"#222","gridWidth":1,"grid":true}},"y":{"field":"y","type":"quantitative","scale":{"domain":[0,20],"nice":false},"axis":{"values":[0,2,4,6,8,10,12,14,16,18,20],"title":"CRes in Ohms","titleFontSize":41,"titleFontWeight":"bold","titleColor":"black","titleBaseline":"middle","titleX":-117,"titleY":386.5,"labelFontSize":41,"labelColor":"black","labelPadding":19,"labelBound":false,"labelFlush":false,"labelOverlap":false,"tickSize":13,"tickColor":"black","domainColor":"#666","gridColor":"#222","gridWidth":1,"grid":true}},"color":{"datum":"before fritting","type":"nominal","scale":{"domain":["before fritting","after fritting"],"range":["#000080","#FF00FF"]},"legend":{"title":null,"orient":"none","legendX":17,"legendY":17,"fillColor":"white","strokeColor":"black","padding":7,"labelFontSize":41,"labelColor":"black","labelOffset":8,"symbolOffset":3,"symbolType":"stroke","symbolSize":1700,"symbolStrokeWidth":2,"rowPadding":13,"labelLimit":400}}},"layer":[{"data":{"name":"before"},"mark":{"type":"line","clip":true,"strokeWidth":2.2,"strokeJoin":"miter"}},{"data":{"name":"after"},"mark":{"type":"line","clip":true,"strokeWidth":2.4,"strokeJoin":"miter"},"encoding":{"color":{"datum":"after fritting","type":"nominal"}}}]}
